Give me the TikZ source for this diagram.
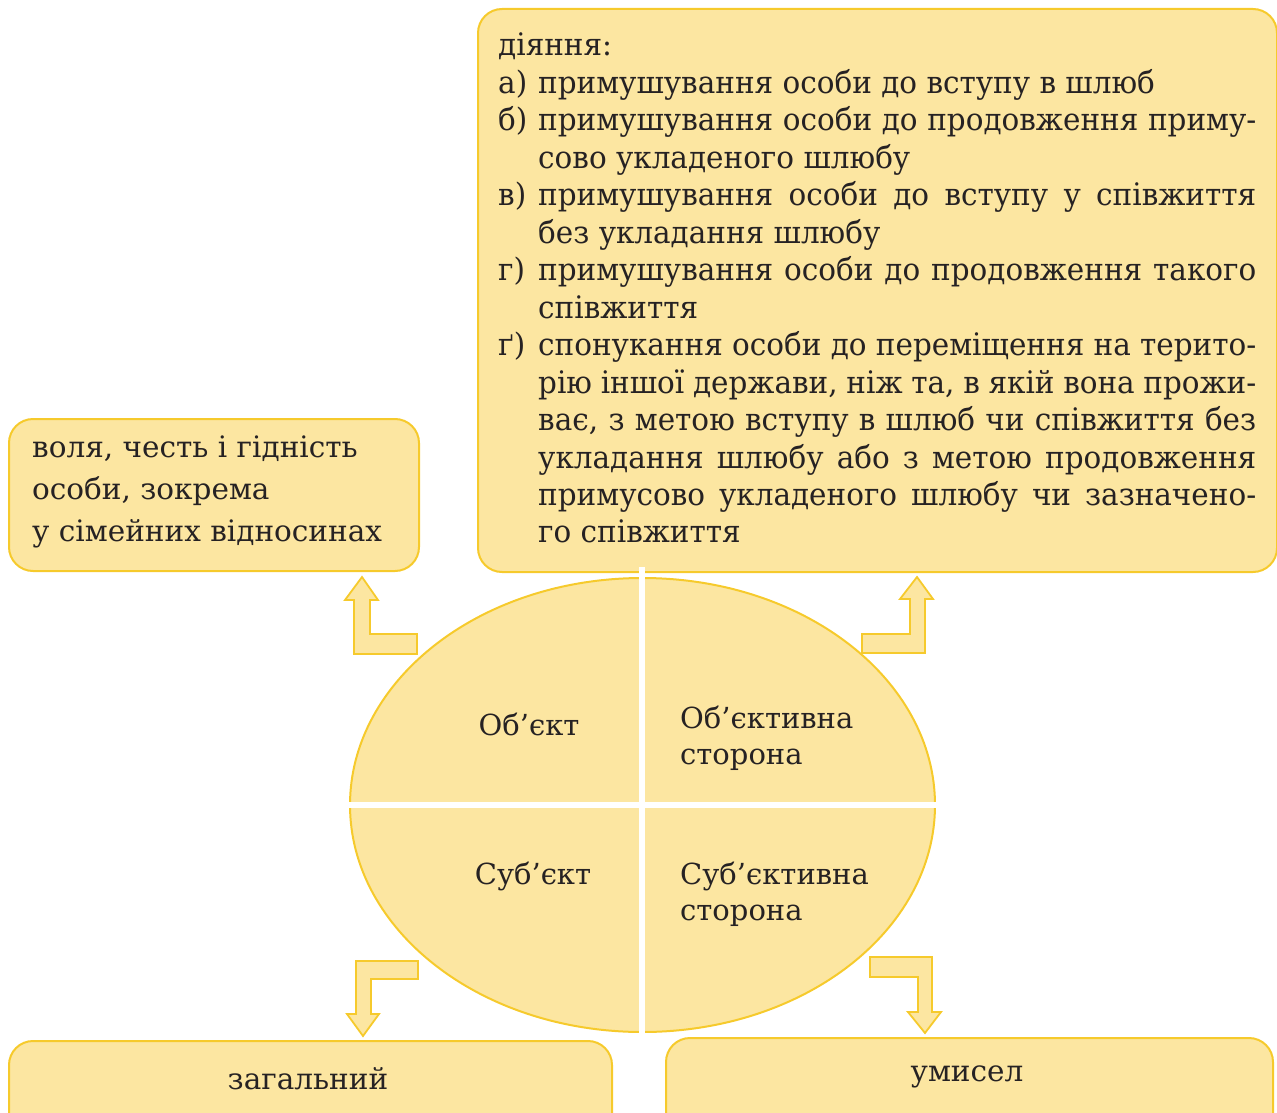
\documentclass[tikz,border=0pt]{standalone}
\usepackage{fontspec}
\setmainfont{DejaVu Serif}
\newfontfamily\condfont[FakeStretch=0.95]{DejaVu Serif}
\usetikzlibrary{shapes.geometric}
\definecolor{boxfill}{HTML}{FCE6A1}
\definecolor{boxline}{HTML}{F6CA2C}
\definecolor{txt}{HTML}{262223}
\newcommand{\jl}[1]{\makebox[718pt][s]{#1}}
\newcommand{\itm}[1]{\makebox[40pt][l]{#1}}
\newcommand{\ind}{\hspace*{40pt}}
\begin{document}
\begin{tikzpicture}[x=1pt,y=-1pt,
  box/.style={draw=boxline, fill=boxfill, line width=2pt, rounded corners=24pt, anchor=north west, inner sep=0pt},
  barrow/.style={draw=boxline, fill=boxfill, line width=1.8pt, line join=miter},
  lbl/.style={inner sep=0pt, text=txt, font=\fontsize{29.5}{42}\selectfont},
  cross/.style={draw=white, line width=6pt}]
\useasboundingbox (0,0) rectangle (1277,1113);
\clip (0,0) rectangle (1277,1113);

% boxes
\node[box, minimum width=410pt, minimum height=152pt] (objbox) at (8,418) {};
\node[box, minimum width=799pt, minimum height=563pt] (actbox) at (477,8) {};
\node[box, minimum width=603pt, minimum height=120pt] (genbox) at (8,1040) {};
\node[box, minimum width=607pt, minimum height=120pt] (intbox) at (665,1037) {};

% ellipse
\node[draw=boxline, fill=boxfill, line width=2pt, ellipse, minimum width=585pt, minimum height=454pt, inner sep=0pt] (el) at (642.5,805) {};
\coordinate (vtop) at (642,567);
\coordinate (vbot) at (642,1036);
\coordinate (hl) at (346,805);
\coordinate (hr) at (939,805);
\draw[cross] (vtop) -- (vbot);
\draw[cross] (hl) -- (hr);

% block arrows
\draw[barrow] (362,577) -- (378,600) -- (370,600) -- (370,634) -- (417,634) -- (417,654) -- (354,654) -- (354,600) -- (345,600) -- cycle;
\draw[barrow] (917,577) -- (933,599) -- (925,599) -- (925,653) -- (862,653) -- (862,634) -- (910,634) -- (910,599) -- (900,599) -- cycle;
\draw[barrow] (356,961) -- (418,961) -- (418,979) -- (371,979) -- (371,1014) -- (379,1014) -- (363,1036) -- (347,1014) -- (356,1014) -- cycle;
\draw[barrow] (870,957) -- (932,957) -- (932,1012) -- (941,1012) -- (925,1033) -- (908,1012) -- (918,1012) -- (918,977) -- (870,977) -- cycle;

% texts
\node[lbl, anchor=base west] (objtext) at (32,457) {\parbox[t]{400pt}{\fontsize{29.5}{42}\selectfont воля, честь і гідність\\особи, зокрема\\у сімейних відносинах}};

\node[lbl, anchor=base west, font=\condfont\fontsize{31}{37.46}\selectfont] (acttext) at (498,56) {\parbox[t]{760pt}{\condfont\fontsize{31}{37.46}\selectfont
діяння:\\
\itm{а)}примушування особи до вступу в шлюб\\
\itm{б)}\jl{примушування особи до продовження приму-}\\
\ind сово укладеного шлюбу\\
\itm{в)}\jl{примушування особи до вступу у співжиття}\\
\ind без укладання шлюбу\\
\itm{г)}\jl{примушування особи до продовження такого}\\
\ind співжиття\\
\itm{ґ)}\jl{спонукання особи до переміщення на терито-}\\
\ind\jl{рію іншої держави, ніж та, в якій вона прожи-}\\
\ind\jl{ває, з метою вступу в шлюб чи співжиття без}\\
\ind\jl{укладання шлюбу або з метою продовження}\\
\ind\jl{примусово укладеного шлюбу чи зазначено-}\\
\ind го співжиття}};

\node[lbl, anchor=base, font=\fontsize{29}{36}\selectfont] (objlbl) at (529,735) {Об’єкт};
\node[lbl, anchor=base west] (objside) at (680,728) {\parbox[t]{240pt}{\fontsize{29}{36}\selectfont Об’єктивна\\сторона}};
\node[lbl, anchor=base, font=\fontsize{29}{36}\selectfont] (sublbl) at (533,884) {Суб’єкт};
\node[lbl, anchor=base west] (subside) at (680,884) {\parbox[t]{240pt}{\fontsize{29}{36}\selectfont Суб’єктивна\\сторона}};

\node[lbl, anchor=base] (gentext) at (308,1089) {загальний};
\node[lbl, anchor=base] (inttext) at (967,1081) {умисел};
\end{tikzpicture}
\end{document}
